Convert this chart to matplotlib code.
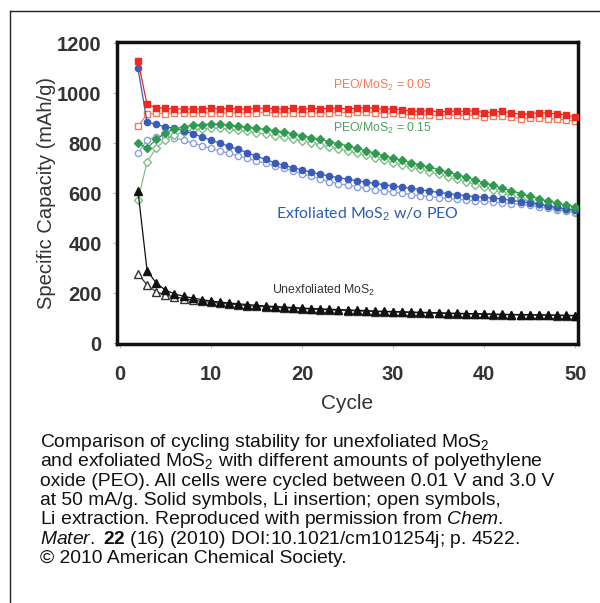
import numpy as np
import matplotlib.pyplot as plt
from matplotlib.lines import Line2D

plt.rcParams['font.family'] = ['Liberation Sans', 'DejaVu Sans']
plt.rcParams['mathtext.fontset'] = 'custom'
plt.rcParams['mathtext.rm'] = 'Liberation Sans'
plt.rcParams['mathtext.it'] = 'Liberation Sans:italic'
plt.rcParams['mathtext.bf'] = 'Liberation Sans:bold'

cycles = np.arange(2, 51)

# PEO/MoS2 = 0.05
red_ins = [1130, 955, 942, 940, 935, 938, 936, 937, 940, 936, 940, 937, 935, 940, 940,
           938, 936, 940, 935, 940, 937, 940, 940, 937, 940, 942, 940, 935, 938, 933,
           928, 928, 930, 925, 928, 928, 927, 930, 922, 925, 927, 922, 915, 918, 922,
           920, 917, 913, 905]
red_ext = [868, 915, 920, 918, 920, 920, 922, 920, 922, 920, 922, 921, 920, 922, 923,
           922, 920, 922, 921, 922, 920, 922, 924, 922, 923, 925, 922, 918, 920, 915,
           912, 913, 912, 910, 912, 912, 910, 912, 906, 908, 908, 905, 898, 900, 902,
           898, 896, 893, 888]

# PEO/MoS2 = 0.15
green_ins = [800, 780, 815, 842, 857, 865, 872, 874, 876, 876, 872, 868, 864, 859, 855,
             850, 845, 838, 830, 822, 815, 806, 798, 790, 780, 770, 760, 750, 740, 731,
             722, 713, 704, 694, 684, 674, 664, 653, 642, 631, 620, 609, 598, 588, 578,
             568, 560, 552, 545]
green_ext = [572, 725, 780, 812, 832, 846, 854, 858, 860, 859, 856, 852, 847, 842, 836,
             830, 824, 817, 810, 802, 794, 786, 778, 769, 760, 751, 742, 732, 722, 713,
             704, 695, 685, 675, 665, 655, 645, 634, 623, 612, 600, 589, 578, 568, 558,
             548, 540, 532, 525]

# exfoliated, no PEO
blue_ins = [1100, 885, 875, 865, 860, 850, 838, 825, 812, 800, 787, 775, 762, 748, 735,
            722, 712, 702, 693, 684, 676, 668, 662, 656, 650, 644, 639, 634, 629, 624,
            619, 614, 608, 603, 598, 594, 590, 586, 583, 580, 576, 571, 566, 561, 555,
            549, 543, 537, 532]
blue_ext = [760, 812, 826, 828, 822, 812, 801, 790, 779, 769, 759, 749, 739, 729, 719,
            709, 699, 689, 677, 667, 657, 646, 638, 632, 626, 620, 614, 609, 604, 599,
            594, 590, 586, 582, 579, 576, 573, 570, 567, 564, 561, 558, 555, 551, 545,
            539, 533, 527, 522]

# unexfoliated
black_ins = [610, 290, 240, 212, 197, 187, 180, 174, 168, 164, 160, 157, 154, 151, 148,
             146, 144, 142, 140, 138, 137, 135, 134, 132, 131, 130, 128, 127, 126, 125,
             124, 123, 122, 121, 120, 119, 118, 117, 117, 116, 115, 114, 114, 113, 113,
             112, 112, 111, 110]
black_ext = [278, 232, 205, 192, 185, 178, 172, 167, 163, 159, 156, 153, 150, 147, 145,
             143, 141, 139, 137, 136, 134, 133, 131, 130, 129, 127, 126, 125, 124, 123,
             122, 121, 120, 119, 118, 117, 116, 116, 115, 114, 113, 113, 112, 112, 111,
             111, 110, 109, 109]

caption = [
    r"Comparison of cycling stability for unexfoliated MoS$_2$",
    r"and exfoliated MoS$_2$ with different amounts of polyethylene",
    r"oxide (PEO). All cells were cycled between 0.01 V and 3.0 V",
    r"at 50 mA/g. Solid symbols, Li insertion; open symbols,",
    r"Li extraction. Reproduced with permission from $\mathit{Chem.}$",
    r"$\mathit{Mater.}$ $\mathbf{22}$ (16) (2010) DOI:10.1021/cm101254j; p. 4522.",
    r"© 2010 American Chemical Society.",
]

W, H = 600, 603
fig = plt.figure(figsize=(6, 6.03), dpi=100)
ax = fig.add_axes([117 / W, 1 - 344 / H, 461 / W, 302 / H])


def series(y_ins, y_ext, c_ins, c_ext, marker, ms):
    ax.plot(cycles, y_ext, color=c_ext, lw=0.9, marker=marker, ms=ms,
            mfc='white', mec=c_ext, mew=1.0, zorder=2)
    ax.plot(cycles, y_ins, color=c_ins, lw=0.9, marker=marker, ms=ms,
            mfc=c_ins, mec=c_ins, zorder=3)


series(black_ins, black_ext, '#111111', '#333333', '^', 5.5)
series(blue_ins, blue_ext, '#3a5cb8', '#8a9ee0', 'o', 4.5)
series(green_ins, green_ext, '#2f9a50', '#7fc08a', 'D', 4)
series(red_ins, red_ext, '#ec2a22', '#f47a5c', 's', 5)

ax.set_xlim(-0.3, 50.3)
ax.set_ylim(-4, 1205)
ax.set_xticks([0, 10, 20, 30, 40, 50])
ax.set_yticks(range(0, 1201, 200))
for s in ax.spines.values():
    s.set_linewidth(2.5)
    s.set_color('#111111')
ax.tick_params(direction='out', length=3, width=0.8, color='#bbbbbb',
               labelsize=14.5, labelcolor='#333333')
ax.tick_params(axis='x', pad=12)
ax.tick_params(axis='y', pad=8)
for lab in ax.get_xticklabels() + ax.get_yticklabels():
    lab.set_fontweight('bold')
ax.set_xlabel('Cycle', fontsize=15, color='#333333', labelpad=7)
ax.set_ylabel('Specific Capacity (mAh/g)', fontsize=14.5, color='#333333', labelpad=1)

ax.text(382 / W, 1 - 85 / H, r'PEO/MoS$_2$ = 0.05', transform=fig.transFigure,
        fontsize=8.8, color='#f27a5a', ha='center', va='center')
ax.text(382 / W, 1 - 128 / H, r'PEO/MoS$_2$ = 0.15', transform=fig.transFigure,
        fontsize=8.8, color='#4f9e5e', ha='center', va='center')
ax.text(367 / W, 1 - 214 / H, r'Exfoliated MoS$_2$ w/o PEO', transform=fig.transFigure,
        fontsize=11.4, color='#2a5cb0', ha='center', va='center',
        family=['Lato', 'DejaVu Sans'])
ax.text(324 / W, 1 - 290 / H, r'Unexfoliated MoS$_2$', transform=fig.transFigure,
        fontsize=8.8, color='#333333', ha='center', va='center')

for i, line in enumerate(caption):
    fig.text(40 / W, 1 - (447 + 19.3 * i) / H, line, fontsize=13.9, color='#111111',
             ha='left', va='baseline')

fig.add_artist(Line2D([10 / W, 1], [1 - 11 / H, 1 - 11 / H], color='#222222', lw=1))
fig.add_artist(Line2D([10 / W, 10 / W], [0, 1 - 11 / H], color='#222222', lw=1))

fig.savefig('out.png', dpi=100)
